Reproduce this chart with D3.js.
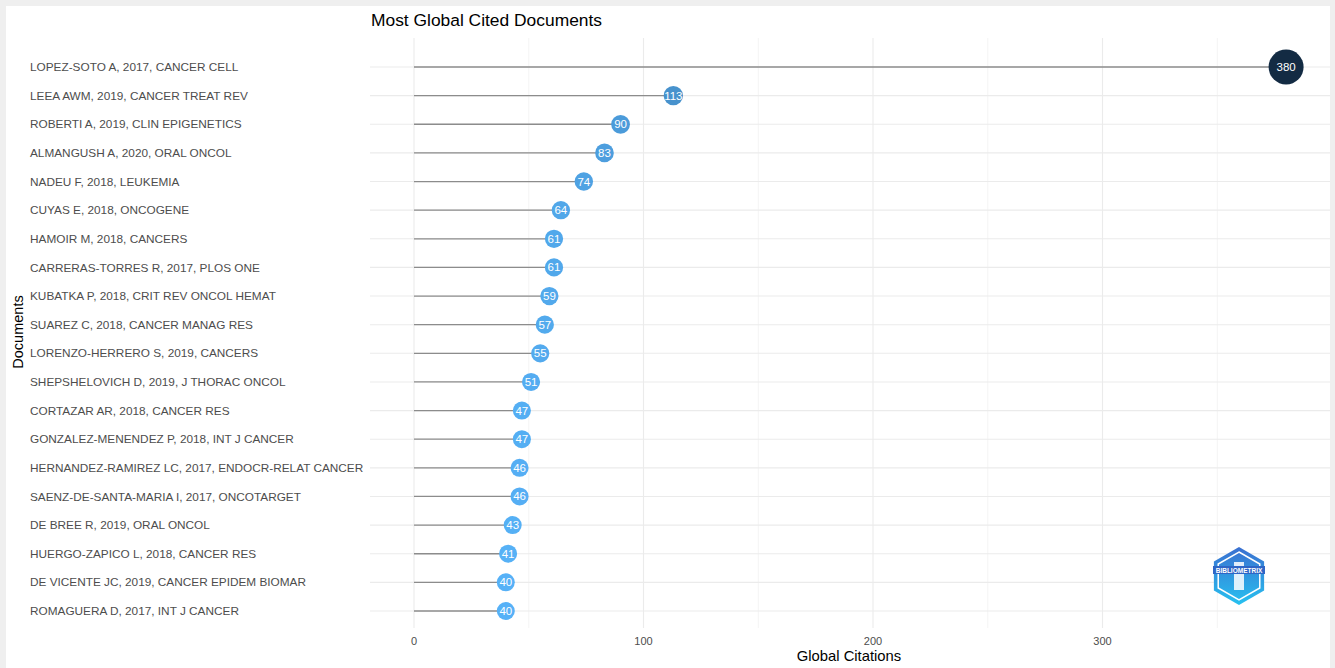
<!DOCTYPE html>
<html><head><meta charset="utf-8">
<script src="https://cdn.jsdelivr.net/npm/d3@7"></script>
<style>
body{margin:0;background:#eeeeee;}
svg{display:block;}
text{font-family:"Liberation Sans", Arial, sans-serif;}
</style></head>
<body>
<svg id="chart" width="1335" height="668"></svg>
<script>
const documents = [
 "LOPEZ-SOTO A, 2017, CANCER CELL",
 "LEEA AWM, 2019, CANCER TREAT REV",
 "ROBERTI A, 2019, CLIN EPIGENETICS",
 "ALMANGUSH A, 2020, ORAL ONCOL",
 "NADEU F, 2018, LEUKEMIA",
 "CUYAS E, 2018, ONCOGENE",
 "HAMOIR M, 2018, CANCERS",
 "CARRERAS-TORRES R, 2017, PLOS ONE",
 "KUBATKA P, 2018, CRIT REV ONCOL HEMAT",
 "SUAREZ C, 2018, CANCER MANAG RES",
 "LORENZO-HERRERO S, 2019, CANCERS",
 "SHEPSHELOVICH D, 2019, J THORAC ONCOL",
 "CORTAZAR AR, 2018, CANCER RES",
 "GONZALEZ-MENENDEZ P, 2018, INT J CANCER",
 "HERNANDEZ-RAMIREZ LC, 2017, ENDOCR-RELAT CANCER",
 "SAENZ-DE-SANTA-MARIA I, 2017, ONCOTARGET",
 "DE BREE R, 2019, ORAL ONCOL",
 "HUERGO-ZAPICO L, 2018, CANCER RES",
 "DE VICENTE JC, 2019, CANCER EPIDEM BIOMAR",
 "ROMAGUERA D, 2017, INT J CANCER"
];
const citations = [380,113,90,83,74,64,61,61,59,57,55,51,47,47,46,46,43,41,40,40];
const xTicks = [0,100,200,300];
const xMinor = [50,150,250,350];

const svg = d3.select("#chart");
svg.append("rect").attr("x",0).attr("y",0).attr("width",1335).attr("height",668).attr("fill","#efefef");
svg.append("rect").attr("x",6).attr("y",6).attr("width",1324).attr("height",662).attr("fill","#ffffff");

const panel = {left:370, right:1330, top:38, bottom:628};
const x = d3.scaleLinear().domain([0,100]).range([414,643.5]);
const y = d3.scalePoint().domain(documents).range([67,611]);

const g = svg.append("g");
g.selectAll(".vminor").data(xMinor).enter().append("line")
 .attr("x1",d=>x(d)).attr("x2",d=>x(d)).attr("y1",panel.top).attr("y2",panel.bottom)
 .attr("stroke","#f4f4f4").attr("stroke-width",1);
g.selectAll(".vmajor").data(xTicks).enter().append("line")
 .attr("x1",d=>x(d)).attr("x2",d=>x(d)).attr("y1",panel.top).attr("y2",panel.bottom)
 .attr("stroke","#ebebeb").attr("stroke-width",1.1);
g.selectAll(".hgrid").data(documents).enter().append("line")
 .attr("x1",panel.left).attr("x2",panel.right).attr("y1",d=>y(d)).attr("y2",d=>y(d))
 .attr("stroke","#ebebeb").attr("stroke-width",1.1);

const data = documents.map((d,i)=>({doc:d, val:citations[i]}));
g.selectAll(".seg").data(data).enter().append("line")
 .attr("x1",x(0)).attr("x2",d=>x(d.val)).attr("y1",d=>y(d.doc)).attr("y2",d=>y(d.doc))
 .attr("stroke","#8c8c8c").attr("stroke-width",1.3);

const color = d3.scaleLinear().domain([40,380]).range(["#56B1F7","#132B43"]).interpolate(d3.interpolateLab);
const rad = d3.scalePow().exponent(2).domain([40,380]).range([9,17.5]);

g.selectAll(".pt").data(data).enter().append("circle")
 .attr("cx",d=>x(d.val)).attr("cy",d=>y(d.doc)).attr("r",d=>rad(d.val))
 .attr("fill",d=>color(d.val));
g.selectAll(".pl").data(data).enter().append("text")
 .attr("x",d=>x(d.val)).attr("y",d=>y(d.doc)).attr("dy","0.35em")
 .attr("text-anchor","middle").attr("fill","#ffffff").attr("font-size",11.5)
 .text(d=>d.val);

g.selectAll(".yl").data(documents).enter().append("text")
 .attr("x",30).attr("y",d=>y(d)).attr("dy","0.35em")
 .attr("fill","#4d4d4d").attr("font-size",11.8).text(d=>d);

g.selectAll(".xl").data(xTicks).enter().append("text")
 .attr("x",d=>x(d)).attr("y",645).attr("text-anchor","middle")
 .attr("fill","#4d4d4d").attr("font-size",11).text(d=>d);

svg.append("text").attr("x",849).attr("y",661).attr("text-anchor","middle")
 .attr("font-size",14.8).attr("fill","#000").text("Global Citations");
svg.append("text").attr("transform","translate(23,332) rotate(-90)").attr("text-anchor","middle")
 .attr("font-size",14.5).attr("fill","#000").text("Documents");
svg.append("text").attr("x",371).attr("y",26).attr("font-size",17.4).attr("fill","#000")
 .text("Most Global Cited Documents");

const lg = svg.append("g").attr("transform","translate(1239,576)");
const defs = svg.append("defs");
const grad = defs.append("linearGradient").attr("id","lgGrad").attr("x1","0").attr("y1","0").attr("x2","0").attr("y2","1");
grad.append("stop").attr("offset","0").attr("stop-color","#3a6fd0");
grad.append("stop").attr("offset","1").attr("stop-color","#27c1f0");
const hex = d3.range(6).map(i=>{const a=Math.PI/3*i - Math.PI/2; return [29*Math.cos(a), 29*Math.sin(a)];});
lg.append("polygon").attr("points",hex.map(p=>p.join(",")).join(" ")).attr("fill","url(#lgGrad)");
const hex2 = d3.range(6).map(i=>{const a=Math.PI/3*i - Math.PI/2; return [24*Math.cos(a), 24*Math.sin(a)];});
lg.append("polygon").attr("points",hex2.map(p=>p.join(",")).join(" ")).attr("fill","none").attr("stroke","#ffffff").attr("stroke-width",1.5);
lg.append("rect").attr("x",-5).attr("y",-14).attr("width",10).attr("height",28).attr("fill","#ffffff").attr("opacity",0.85);
lg.append("rect").attr("x",-26).attr("y",-10).attr("width",52).attr("height",8).attr("fill","#2f66c6");
lg.append("text").attr("x",0).attr("y",-3.5).attr("text-anchor","middle").attr("font-size",6.5)
 .attr("font-weight","bold").attr("fill","#ffffff").text("BIBLIOMETRIX");
</script>
</body></html>
